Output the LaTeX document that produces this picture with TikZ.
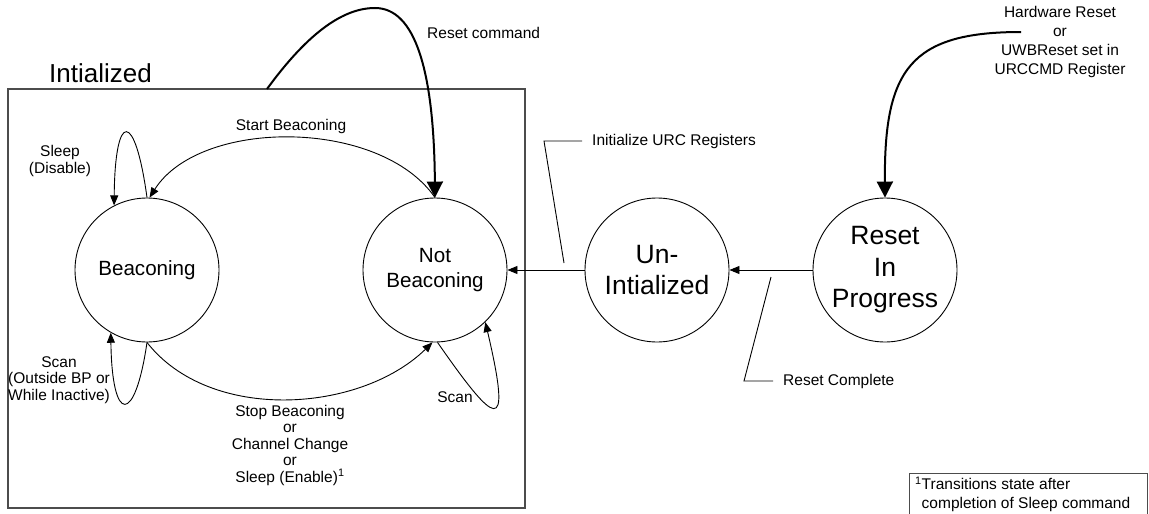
\documentclass[tikz,border=0pt]{standalone}
\usepackage{fontspec}
\setmainfont{Liberation Sans}
\usetikzlibrary{arrows.meta}
\begin{document}
\begin{tikzpicture}[x=1pt,y=-1pt,
  state/.style={draw, circle, minimum size=144pt, inner sep=0pt, line width=0.9pt, align=center},
  midtxt/.style={font=\fontsize{20.6}{25}\selectfont},
  bigtxt/.style={font=\fontsize{26.5}{31.5}\selectfont},
  lbl/.style={font=\fontsize{15.5}{16.5}\selectfont, inner sep=0pt, align=center},
  thin/.style={line width=0.9pt},
  trans/.style={thin, -{Triangle[length=10pt,width=8pt]}},
  heavy/.style={line width=2pt, -{Triangle[length=16pt,width=16pt]}},
  frame/.style={draw=black!70, line width=1.5pt}
]
\useasboundingbox (0,0) rectangle (1149,514);

% enclosing group of initialized states
\draw[frame] (8,89) rectangle (525,508);
\node[anchor=base west, inner sep=0pt, font=\fontsize{26}{30}\selectfont] (grp) at (49,82) {Intialized};

% states
\node[state, midtxt] (bcn) at (147,270) {Beaconing};
\node[state, midtxt] (nb) at (435,270) {Not\\Beaconing};
\node[state, bigtxt] (un) at (657,270) {Un-\\Intialized};
\node[state, bigtxt] (rst) at (885,270) {Reset\\In\\Progress};

% labels
\node[lbl] (lsleep) at (60,161) {Sleep\\(Disable)};
\node[lbl] (lstart) at (291,126) {Start Beaconing};
\node[lbl, anchor=west] (lreset) at (427,33) {Reset command};
\node[lbl] (lscanl) at (59,380) {Scan\\(Outside BP or\\While Inactive)};
\node[lbl] (lstop) at (290,445) {Stop Beaconing\\or\\Channel Change\\or\\Sleep (Enable)\textsuperscript{1}};
\node[lbl] (lscanr) at (455,397) {Scan};
\node[lbl, font=\fontsize{15.5}{19.3}\selectfont] (lhw) at (1060,42) {Hardware Reset\\or\\UWBReset set in\\URCCMD Register};
\node[lbl, anchor=west, inner xsep=10pt] (linit) at (582,141) {Initialize URC Registers};
\node[lbl, anchor=west, inner xsep=10pt] (ldone) at (773,381) {Reset Complete};

% free ends of the two external triggers
\coordinate (rcs) at (267,89);
\coordinate (hws) at (1021,32);

% transitions inside the group
\draw[trans] (bcn.90) .. controls (135,110) and (115,110) .. (bcn.117);
\draw[trans] (nb.90) .. controls (380,118) and (200,118) .. (bcn.88);
\draw[trans] (bcn.270) .. controls (135,425) and (112,425) .. (bcn.240);
\draw[trans] (bcn.270) .. controls (210,423) and (360,413) .. (nb.268);
\draw[trans] (nb.272) .. controls (495,425) and (513,440) .. (nb.314);

% transitions between the top-level states
\draw[trans] (un.west) -- (nb.east);
\draw[trans] (rst.west) -- (un.east);
\draw[heavy] (rcs) .. controls (310,30) and (345,8) .. (375,8)
             .. controls (415,8) and (434,70) .. (nb.90);
\draw[heavy] (hws) .. controls (910,32) and (884,70) .. (rst.90);

% leaders from the transition labels
\coordinate (ia) at (544,141);
\coordinate (ib) at (564,263);
\draw[thin] (linit.west) -- (ia) -- (ib);
\coordinate (ra) at (771,277);
\coordinate (rb) at (744,381);
\draw[thin] (ra) -- (rb) -- (ldone.west);

% footnote
\draw[line width=1pt, draw=black!70] (909,515) -- (909,473) -- (1147,473) -- (1147,515);
\node[anchor=north west, inner sep=0pt, align=left, font=\fontsize{15.5}{19}\selectfont] (fn) at (915,477)
  {\textsuperscript{1}Transitions state after\\\hphantom{\textsuperscript{1}}completion of Sleep command};
\end{tikzpicture}
\end{document}
